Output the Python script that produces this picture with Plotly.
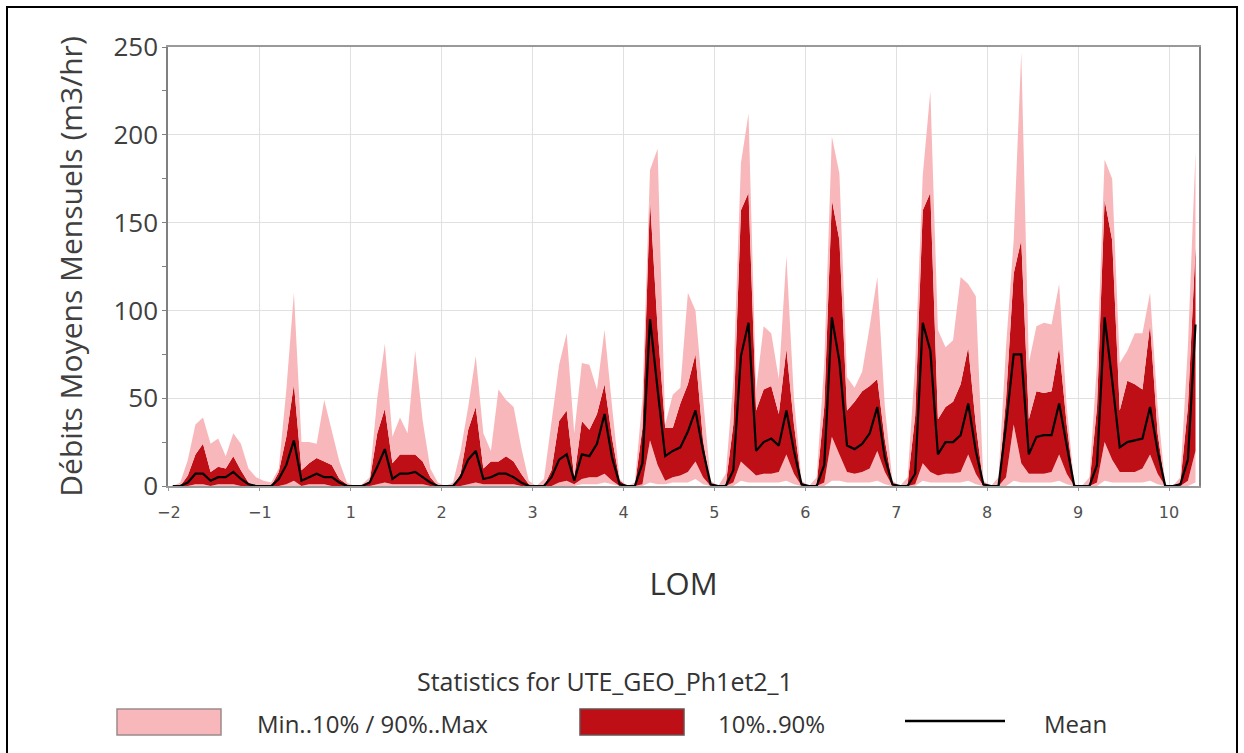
import plotly.graph_objects as go

# ---- data: monthly statistics, one row per LOM year (12 months), last year partial ----
YEAR_LABELS = ["\u22122", "\u22121", "1", "2", "3", "4", "5", "6", "7", "8", "9", "10"]

MEAN = [
    0, 0, 2, 7, 7, 3, 5, 5, 8, 4, 1, 0,
    0, 0, 4, 12, 26, 3, 5, 7, 5, 5, 2, 0,
    0, 0, 2, 11, 21, 4, 7, 7, 8, 5, 2, 0,
    0, 0, 5, 15, 20, 4, 5, 7, 7, 5, 2, 0,
    0, 0, 5, 15, 18, 3, 18, 17, 24, 41, 16, 1,
    0, 0, 13, 95, 55, 17, 20, 22, 31, 43, 20, 1,
    0, 0, 9, 74, 93, 20, 25, 27, 23, 43, 20, 1,
    0, 0, 12, 96, 71, 23, 21, 24, 30, 45, 16, 1,
    0, 0, 7, 93, 77, 18, 25, 25, 29, 47, 20, 1,
    0, 0, 35, 75, 75, 18, 28, 29, 29, 47, 23, 0,
    0, 0, 12, 96, 60, 22, 25, 26, 27, 45, 20, 0,
    0, 1, 15, 92,
]
P90 = [
    0, 0, 6, 18, 24, 8, 11, 10, 17, 9, 2, 0,
    0, 0, 8, 28, 58, 9, 13, 16, 14, 12, 4, 1,
    0, 0, 3, 30, 44, 13, 18, 18, 18, 14, 5, 0,
    0, 0, 7, 32, 45, 10, 14, 14, 17, 14, 7, 1,
    0, 0, 9, 37, 43, 5, 37, 32, 41, 58, 27, 3,
    0, 0, 33, 163, 90, 33, 33, 47, 58, 75, 26, 1,
    0, 1, 35, 157, 167, 43, 55, 57, 41, 78, 35, 2,
    0, 1, 45, 163, 140, 43, 48, 54, 57, 61, 26, 1,
    0, 1, 40, 157, 167, 38, 45, 48, 58, 79, 35, 1,
    0, 1, 50, 121, 140, 38, 54, 53, 54, 79, 35, 0,
    0, 1, 45, 163, 140, 43, 60, 58, 55, 92, 30, 0,
    0, 2, 45, 136,
]
MAXV = [
    0, 2, 15, 35, 39, 24, 27, 17, 30, 24, 10, 5,
    3, 2, 10, 55, 110, 25, 25, 24, 49, 31, 14, 2,
    0, 1, 5, 50, 81, 28, 39, 30, 77, 37, 10, 2,
    0, 2, 20, 45, 74, 30, 20, 55, 49, 45, 22, 3,
    0, 4, 37, 69, 87, 30, 70, 69, 55, 89, 45, 4,
    0, 2, 50, 180, 192, 35, 52, 56, 110, 100, 50, 3,
    0, 7, 60, 184, 212, 55, 91, 87, 61, 131, 50, 3,
    0, 5, 70, 199, 178, 62, 56, 65, 91, 119, 45, 3,
    0, 5, 70, 177, 225, 89, 79, 83, 119, 115, 108, 3,
    0, 5, 80, 140, 247, 70, 91, 93, 92, 115, 45, 1,
    0, 5, 70, 186, 175, 70, 77, 87, 87, 110, 45, 1,
    0, 5, 80, 190,
]
P10 = [
    0, 0, 0, 1, 1, 0, 1, 1, 1, 0, 0, 0,
    0, 0, 0, 1, 3, 0, 1, 1, 1, 0, 0, 0,
    0, 0, 0, 1, 2, 1, 1, 1, 1, 1, 0, 0,
    0, 0, 0, 1, 2, 1, 1, 1, 1, 1, 0, 0,
    0, 0, 0, 2, 3, 1, 4, 5, 5, 7, 3, 0,
    0, 0, 1, 26, 12, 3, 5, 6, 8, 14, 5, 0,
    0, 0, 2, 14, 10, 6, 7, 7, 8, 18, 7, 0,
    0, 0, 2, 28, 18, 8, 7, 8, 10, 20, 8, 0,
    0, 0, 1, 13, 8, 6, 7, 7, 8, 18, 7, 0,
    0, 0, 5, 35, 13, 7, 7, 7, 8, 18, 7, 0,
    0, 0, 2, 25, 15, 8, 8, 8, 10, 18, 7, 0,
    0, 0, 3, 20,
]
MINV = [
    0, 0, 0, 0, 0, 0, 0, 0, 0, 0, 0, 0,
    0, 0, 0, 0, 0, 0, 0, 0, 0, 0, 0, 0,
    0, 0, 0, 0, 0, 0, 0, 0, 0, 0, 0, 0,
    0, 0, 0, 0, 0, 0, 0, 0, 0, 0, 0, 0,
    0, 0, 0, 0, 0, 0, 1, 1, 1, 2, 1, 0,
    0, 0, 0, 2, 1, 1, 2, 2, 2, 4, 1, 0,
    0, 0, 0, 3, 2, 2, 2, 2, 2, 3, 1, 0,
    0, 0, 0, 3, 3, 2, 2, 2, 2, 3, 1, 0,
    0, 0, 0, 3, 2, 2, 2, 2, 2, 3, 1, 0,
    0, 0, 0, 3, 2, 2, 2, 2, 2, 3, 1, 0,
    0, 0, 0, 3, 2, 2, 2, 2, 2, 3, 1, 0,
    0, 0, 0, 2,
]

# time axis: LOM year index + mid-month fraction
X = [(k // 12) + ((k % 12) + 0.5) / 12 for k in range(len(MEAN))]

PINK = "#F8B8BB"
DARK = "#BE0F16"

fig = go.Figure()
fig.add_trace(go.Scatter(x=X, y=MINV, mode="lines", line=dict(width=0),
                         showlegend=False, hoverinfo="skip"))
fig.add_trace(go.Scatter(x=X, y=P10, mode="lines", line=dict(width=0),
                         fill="tonexty", fillcolor=PINK, name="Min..10% / 90%..Max",
                         showlegend=False))
fig.add_trace(go.Scatter(x=X, y=P90, mode="lines", line=dict(width=0),
                         fill="tonexty", fillcolor=DARK, name="10%..90%",
                         showlegend=False))
fig.add_trace(go.Scatter(x=X, y=MAXV, mode="lines", line=dict(width=0),
                         fill="tonexty", fillcolor=PINK, showlegend=False))
fig.add_trace(go.Scatter(x=X, y=MEAN, mode="lines", line=dict(color="black", width=2.2),
                         name="Mean", showlegend=False))

# plot-area geometry in pixels (for legend placement in paper coords)
L, R, T, B = 168, 1199, 47, 486
W, H = R - L, B - T
def px(x):
    return (x - L) / W
def py(y):
    return (B - y) / H

shapes = [
    # outer frame
    dict(type="rect", xref="paper", yref="paper", x0=px(7), x1=px(1237), y0=py(780), y1=py(7),
         line=dict(color="black", width=2), fillcolor="rgba(0,0,0,0)", layer="below"),
    # legend swatches
    dict(type="rect", xref="paper", yref="paper", x0=px(117), x1=px(221), y0=py(735), y1=py(709),
         line=dict(color="#9a8a8a", width=1.5), fillcolor=PINK),
    dict(type="rect", xref="paper", yref="paper", x0=px(580), x1=px(684), y0=py(735), y1=py(709),
         line=dict(color="#6a5050", width=1.5), fillcolor=DARK),
    dict(type="line", xref="paper", yref="paper", x0=px(905), x1=px(1005), y0=py(721), y1=py(721),
         line=dict(color="black", width=2.5)),
]

LEG_FONT = dict(size=24, color="#333333", family="Open Sans")
annotations = [
    dict(text="Statistics for UTE_GEO_Ph1et2_1", xref="paper", yref="paper",
         x=px(605), y=py(681), showarrow=False, xanchor="center", yanchor="middle",
         font=dict(size=25, color="#333333", family="Open Sans")),
    dict(text="Min..10% / 90%..Max", xref="paper", yref="paper",
         x=px(255), y=py(723), showarrow=False, xanchor="left", yanchor="middle", font=LEG_FONT),
    dict(text="10%..90%", xref="paper", yref="paper",
         x=px(716), y=py(723), showarrow=False, xanchor="left", yanchor="middle", font=LEG_FONT),
    dict(text="Mean", xref="paper", yref="paper",
         x=px(1042), y=py(723), showarrow=False, xanchor="left", yanchor="middle", font=LEG_FONT),
]

fig.update_layout(
    width=1244, height=753,
    margin=dict(l=L, r=1244 - R, t=T, b=753 - B),
    paper_bgcolor="white", plot_bgcolor="white",
    showlegend=False,
    shapes=shapes, annotations=annotations,
    font=dict(family="Open Sans", color="#404040"),
    xaxis=dict(
        range=[-0.01, 11.33],
        tickmode="array", tickvals=list(range(len(YEAR_LABELS))), ticktext=YEAR_LABELS,
        tickfont=dict(size=16, color="#505050", family="DejaVu Sans"),
        ticklabelstandoff=8,
        showgrid=True, gridcolor="#e0e0e0", gridwidth=1,
        showline=True, linecolor="#999999", linewidth=1.5, mirror=True,
        ticks="outside", ticklen=3, tickcolor="#999999",
        zeroline=False,
        title=dict(text="LOM", font=dict(size=31, color="#333333", family="Open Sans"), standoff=52),
    ),
    yaxis=dict(
        range=[0, 250],
        tickvals=[0, 50, 100, 150, 200, 250],
        tickfont=dict(size=26, color="#404040", family="Open Sans"),
        showgrid=True, gridcolor="#e0e0e0", gridwidth=1,
        showline=True, linecolor="#808080", linewidth=1.5, mirror=True,
        ticks="outside", ticklen=3, tickcolor="#808080",
        minor=dict(dtick=25, ticks="outside", ticklen=4, tickcolor="#808080", showgrid=False),
        zeroline=False,
        title=dict(text="Débits Moyens Mensuels (m3/hr)",
                   font=dict(size=30, color="#404040", family="Open Sans"), standoff=22),
    ),
)

fig.write_html("out.html")
